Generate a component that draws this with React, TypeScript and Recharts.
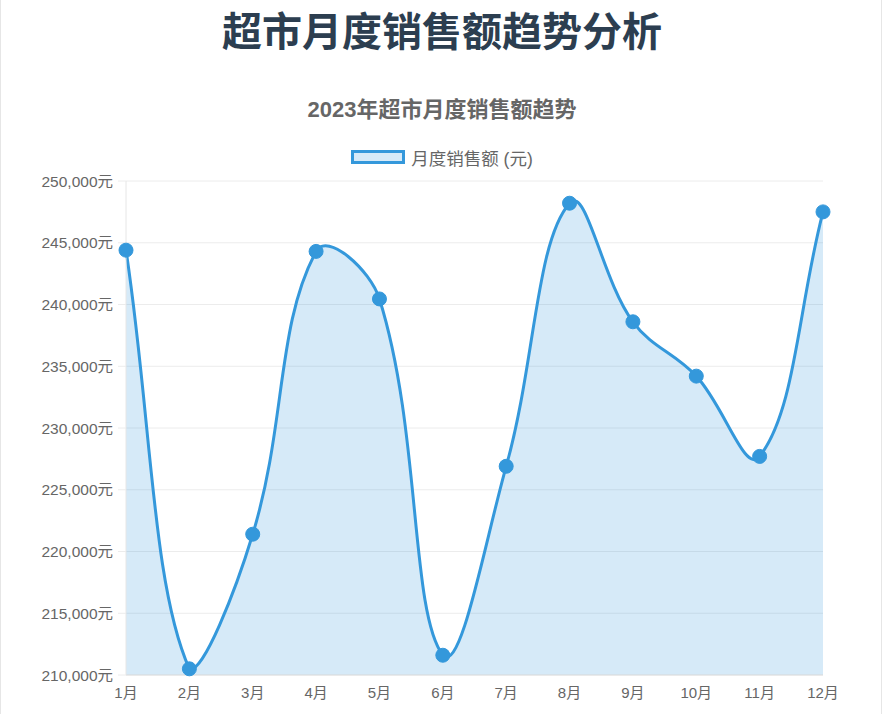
import { Area, AreaChart, CartesianGrid, XAxis, YAxis } from 'recharts'

const MONTHS = ['1月', '2月', '3月', '4月', '5月', '6月', '7月', '8月', '9月', '10月', '11月', '12月']
const SALES = [244400, 210500, 221400, 244300, 240450, 211600, 226900, 248200, 238600, 234200, 227700, 247500]
const Y_TICKS = [210000, 215000, 220000, 225000, 230000, 235000, 240000, 245000, 250000]

const LINE_COLOR = '#3498db'
const WIDTH = 882
const HEIGHT = 714
// plot area in svg pixels, also used to cap the bezier handles like Chart.js does
const PLOT = { left: 125, right: 822, top: 181, bottom: 675 }
const TENSION = 0.4

const cap = (v: number, min: number, max: number) => Math.max(Math.min(v, max), min)

// Chart.js style spline (tension 0.4) as a d3 curve factory
function chartJsSpline(context: any) {
  let line = NaN
  let pts: number[][] = []

  const draw = () => {
    const n = pts.length
    if (!n) return
    if (line) context.lineTo(pts[0][0], pts[0][1])
    else context.moveTo(pts[0][0], pts[0][1])
    if (n === 1) return
    const cps = pts.map((p, i) => {
      const prev = pts[Math.max(i - 1, 0)]
      const next = pts[Math.min(i + 1, n - 1)]
      const d01 = Math.hypot(p[0] - prev[0], p[1] - prev[1])
      const d12 = Math.hypot(next[0] - p[0], next[1] - p[1])
      const sum = d01 + d12
      const fa = TENSION * (sum ? d01 / sum : 0)
      const fb = TENSION * (sum ? d12 / sum : 0)
      const dx = next[0] - prev[0]
      const dy = next[1] - prev[1]
      return {
        px: cap(p[0] - fa * dx, PLOT.left, PLOT.right),
        py: cap(p[1] - fa * dy, PLOT.top, PLOT.bottom),
        nx: cap(p[0] + fb * dx, PLOT.left, PLOT.right),
        ny: cap(p[1] + fb * dy, PLOT.top, PLOT.bottom),
      }
    })
    for (let i = 1; i < n; i++) {
      context.bezierCurveTo(cps[i - 1].nx, cps[i - 1].ny, cps[i].px, cps[i].py, pts[i][0], pts[i][1])
    }
  }

  return {
    areaStart() {
      line = 0
    },
    areaEnd() {
      line = NaN
    },
    lineStart() {
      pts = []
    },
    point(x: number, y: number) {
      pts.push([+x, +y])
    },
    lineEnd() {
      draw()
      if (line || (line !== 0 && pts.length === 1)) context.closePath()
      line = 1 - line
    },
  }
}

const data = MONTHS.map((month, i) => ({ month, sales: SALES[i] }))

const fmt = (v: number) => `${v.toLocaleString('en-US')}元`

export default function App() {
  return (
    <div
      style={{
        position: 'absolute',
        left: 0,
        top: 0,
        width: WIDTH,
        height: HEIGHT,
        background: '#fff',
        borderLeft: '1px solid #e6e6e6',
        borderRight: '1px solid #e6e6e6',
        boxSizing: 'border-box',
        fontFamily: '"Liberation Sans", "Noto Sans CJK SC", sans-serif',
        overflow: 'hidden',
      }}
    >
      <div
        style={{
          position: 'absolute',
          top: 0,
          left: 0,
          width: WIDTH,
          textAlign: 'center',
          fontFamily: '"Noto Sans CJK SC", sans-serif',
          fontSize: 40,
          fontWeight: 700,
          lineHeight: 'normal',
          color: '#2c3e50',
        }}
      >
        超市月度销售额趋势分析
      </div>
      <div
        style={{
          position: 'absolute',
          top: 95,
          left: 0,
          width: WIDTH,
          textAlign: 'center',
          fontFamily: '"Liberation Sans", "Noto Sans CJK SC", sans-serif',
          fontSize: 22,
          fontWeight: 700,
          lineHeight: '30px',
          color: '#666',
        }}
      >
        2023年超市月度销售额趋势
      </div>
      <div
        style={{
          position: 'absolute',
          top: 147,
          left: 0,
          width: WIDTH,
          height: 20,
          display: 'flex',
          justifyContent: 'center',
          alignItems: 'center',
          gap: 6,
          fontSize: 17.5,
          color: '#666',
        }}
      >
        <span
          style={{
            width: 54,
            height: 14,
            boxSizing: 'border-box',
            border: `3px solid ${LINE_COLOR}`,
            background: 'rgba(52,152,219,0.2)',
          }}
        />
        <span>月度销售额 (元)</span>
      </div>
      <div style={{ position: 'absolute', left: 0, top: 0 }}>
        <AreaChart
          width={WIDTH}
          height={HEIGHT}
          data={data}
          margin={{ top: PLOT.top, right: WIDTH - PLOT.right, bottom: HEIGHT - PLOT.bottom - 30, left: 0 }}
        >
          <CartesianGrid vertical={false} stroke="#ececec" />
          <XAxis
            dataKey="month"
            height={30}
            tickSize={0}
            tickMargin={12}
            axisLine={{ stroke: '#e0e0e0' }}
            tick={{ fill: '#666', fontSize: 15 }}
            interval={0}
          />
          <YAxis
            width={PLOT.left}
            domain={[210000, 250000]}
            ticks={Y_TICKS}
            tickFormatter={fmt}
            tickSize={8}
            tickMargin={5}
            tickLine={{ stroke: '#ececec' }}
            axisLine={{ stroke: '#e6e6e6' }}
            tick={{ fill: '#666', fontSize: 15.5 }}
          />
          <Area
            type={chartJsSpline as any}
            dataKey="sales"
            stroke={LINE_COLOR}
            strokeWidth={3}
            fill={LINE_COLOR}
            fillOpacity={0.2}
            dot={{ r: 7, fill: LINE_COLOR, stroke: LINE_COLOR, strokeWidth: 1, fillOpacity: 1 }}
            activeDot={false}
            isAnimationActive={false}
          />
        </AreaChart>
      </div>
    </div>
  )
}
